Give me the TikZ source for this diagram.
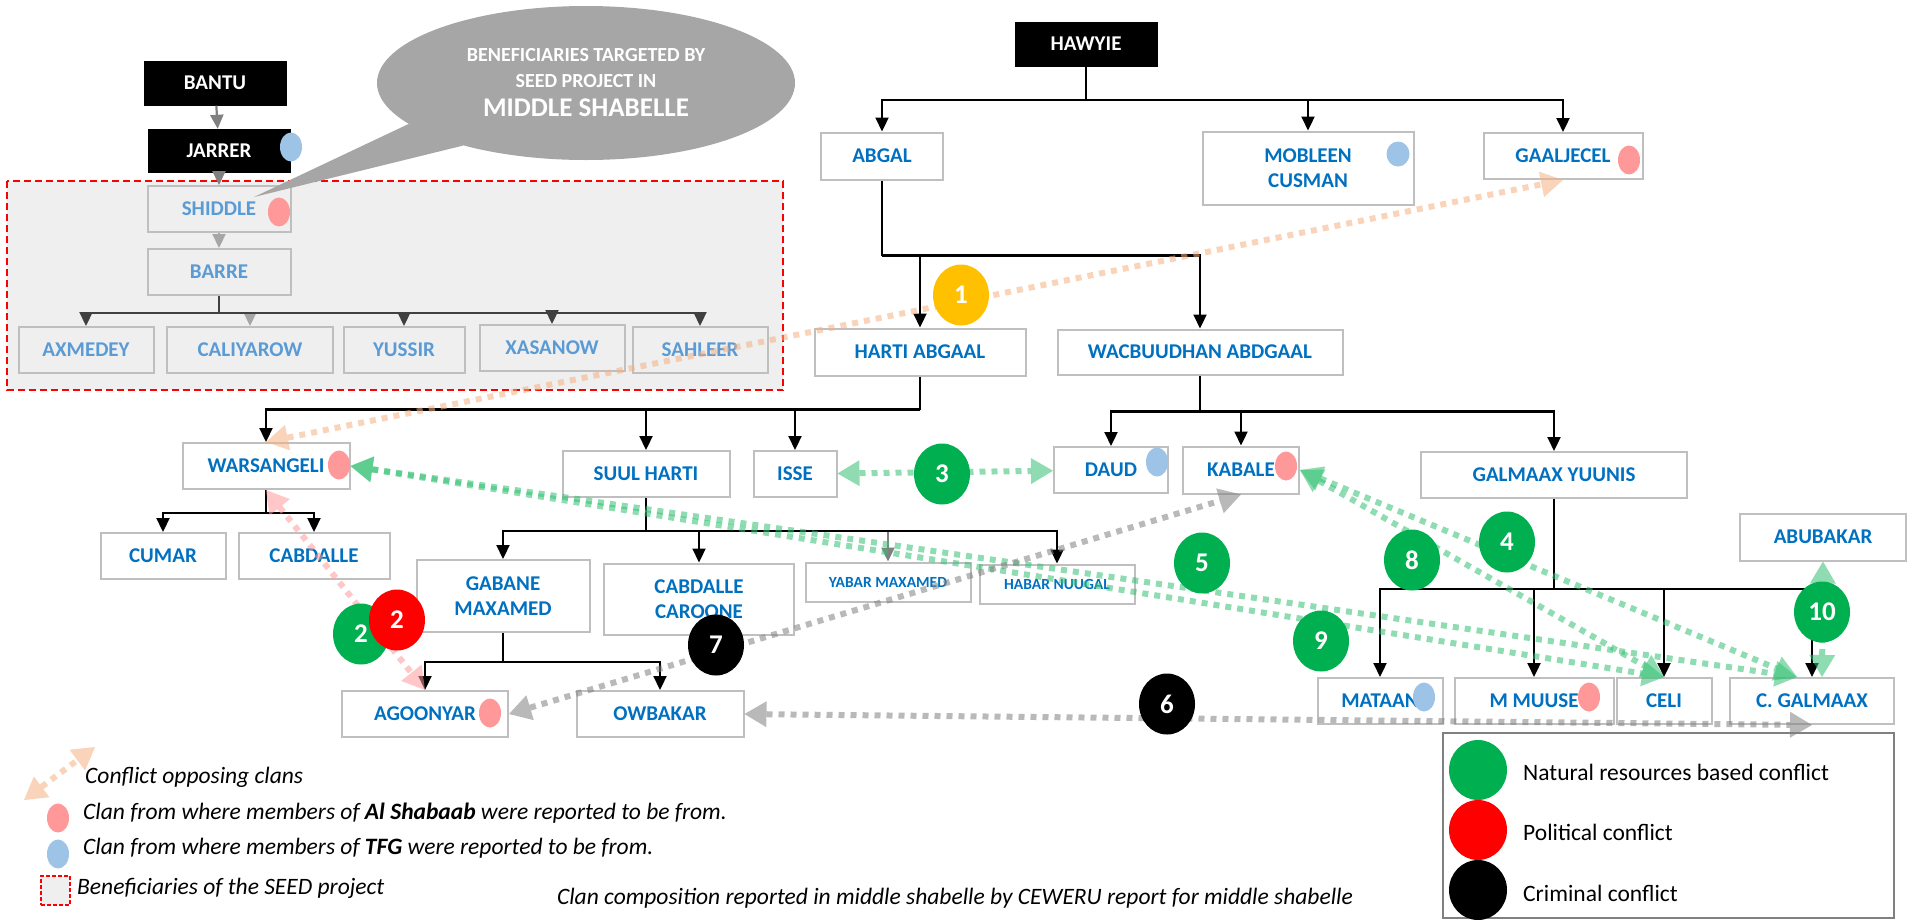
\documentclass[tikz,border=0pt]{standalone}
\usepackage{fontspec}
\setmainfont{Carlito}
\usetikzlibrary{arrows.meta,shapes.geometric}

\definecolor{clanblue}{HTML}{0070C0}
\definecolor{fadeblue}{HTML}{5B9BD5}
\definecolor{boxgray}{HTML}{BFBFBF}
\definecolor{seedgray}{HTML}{EFEFEF}
\definecolor{natgreen}{HTML}{00B050}
\definecolor{polred}{HTML}{FF0000}
\definecolor{onegold}{HTML}{FFC000}
\definecolor{alpink}{HTML}{FF9999}
\definecolor{tfgblue}{HTML}{9DC3E6}
\definecolor{bubblegray}{HTML}{A6A6A6}
\definecolor{feudorange}{HTML}{F4B183}
\definecolor{midgray}{HTML}{808080}
\definecolor{darkgray}{HTML}{404040}

\begin{document}
\begin{tikzpicture}[x=1pt,y=-1pt,
  clan/.style={draw=boxgray,line width=2pt,fill=white,text=clanblue,font=\fontsize{21}{25}\selectfont\bfseries,minimum height=46pt,inner sep=0pt,align=center},
  seed/.style={clan,fill=seedgray,text=fadeblue,minimum height=46pt},
  small/.style={clan,font=\fontsize{15.5}{18}\selectfont\bfseries,minimum height=39pt},
  root/.style={fill=black,text=white,font=\fontsize{21}{25}\selectfont\bfseries,minimum height=45pt,minimum width=143pt,inner sep=0pt},
  dot/.style={ellipse,minimum width=22pt,minimum height=29pt,inner sep=0pt},
  badge/.style={ellipse,minimum width=56pt,minimum height=61pt,inner sep=0pt,text=white,font=\fontsize{27}{27}\selectfont\bfseries},
  stem/.style={line width=2.2pt},
  tree/.style={stem,-{Triangle[length=14pt,width=13pt]}},
  elbow/.style={to path={-| (\tikztotarget)}},
  conflict/.style={line width=6pt,dash pattern=on 6pt off 6pt,opacity=.55,{Triangle[length=22pt,width=26pt,line width=0pt]}-{Triangle[length=22pt,width=26pt,line width=0pt]}},
  legtext/.style={anchor=west,inner sep=0pt,font=\fontsize{23.5}{28}\selectfont\itshape}
]
\useasboundingbox (0,0) rectangle (1910,919);

% SEED project area
\draw[polred,line width=2pt,dash pattern=on 7pt off 4pt,fill=seedgray] (6.5,181) rectangle (783,390);

% bantu
\node[root] (bantu) at (215,83) {BANTU};
\node[root,minimum height=44pt] (jarrer) at (219,151) {JARRER};
\node[seed,minimum width=143pt] (shiddle) at (219,209) {SHIDDLE};
\node[seed,minimum width=143pt] (barre) at (219,272) {BARRE};
\node[seed,minimum width=135pt] (axmedey) at (86,350) {AXMEDEY};
\node[seed,minimum width=166pt] (caliyarow) at (250,350) {CALIYAROW};
\node[seed,minimum width=121pt] (yussir) at (404,350) {YUSSIR};
\node[seed,minimum width=145pt] (xasanow) at (552,348) {XASANOW};
\node[seed,minimum width=135pt] (sahleer) at (700,350) {SAHLEER};

% hawyie
\node[root] (hawyie) at (1086,44) {HAWYIE};
\node[clan,minimum width=122pt,minimum height=47pt] (abgal) at (882,156) {ABGAL};
\node[clan,minimum width=211pt,minimum height=73pt] (mobleen) at (1308,168) {MOBLEEN\\CUSMAN};
\node[clan,minimum width=159pt] (gaaljecel) at (1563,156) {GAALJECEL};
\node[clan,minimum width=211pt,minimum height=47pt] (harti) at (920,352) {HARTI ABGAAL};
\node[clan,minimum width=285pt,minimum height=45pt] (wacbuudhan) at (1200,352) {WACBUUDHAN ABDGAAL};
\node[clan,minimum width=167pt] (warsangeli) at (266,466) {WARSANGELI};
\node[clan,minimum width=125pt] (cumar) at (163,556) {CUMAR};
\node[clan,minimum width=151pt] (cabdalle) at (314,556) {CABDALLE};
\node[clan,minimum width=167pt] (suulharti) at (646,474) {SUUL HARTI};
\node[clan,minimum width=83pt] (isse) at (795,474) {ISSE};
\node[clan,minimum width=114pt] (daud) at (1111,470) {DAUD};
\node[clan,minimum width=116pt,minimum height=47pt] (kabale) at (1241,470) {KABALE};
\node[clan,minimum width=266pt] (galmaax) at (1554,475) {GALMAAX YUUNIS};
\node[clan,minimum width=166pt,minimum height=47pt] (abubakar) at (1823,537) {ABUBAKAR};
\node[clan,minimum width=173pt,minimum height=72pt] (gabane) at (503,596) {GABANE\\MAXAMED};
\node[clan,minimum width=190pt,minimum height=71pt] (caroone) at (699,599) {CABDALLE\\CAROONE};
\node[small,minimum width=165pt] (yabar) at (888,582) {YABAR MAXAMED};
\node[small,minimum width=155pt] (habar) at (1057,584) {HABAR NUUGAL};
\node[clan,minimum width=166pt] (agoonyar) at (425,714) {AGOONYAR};
\node[clan,minimum width=167pt] (owbakar) at (660,714) {OWBAKAR};
\node[clan,minimum width=125pt] (mataan) at (1380,701) {MATAAN};
\node[clan,minimum width=159pt] (mmuuse) at (1534,701) {M MUUSE};
\node[clan,minimum width=95pt] (celi) at (1664,701) {CELI};
\node[clan,minimum width=164pt] (cgalmaax) at (1812,701) {C. GALMAAX};

% clan markers
\node[dot,fill=tfgblue] (jarrerdot) at (291,147) {};
\node[dot,fill=alpink] (shiddledot) at (279,212) {};
\node[dot,fill=tfgblue,minimum height=25pt,minimum width=23pt] (mobleendot) at (1398,154) {};
\node[dot,fill=alpink] (gaaljeceldot) at (1629,160) {};
\node[dot,fill=alpink] (warsangelidot) at (339,465) {};
\node[dot,fill=tfgblue] (dauddot) at (1157,462) {};
\node[dot,fill=alpink] (kabaledot) at (1286,466) {};
\node[dot,fill=alpink] (agoonyardot) at (490,713) {};
\node[dot,fill=tfgblue] (mataandot) at (1424,697) {};
\node[dot,fill=alpink] (mmuusedot) at (1589,697) {};

% lineage
\path[tree,midgray]
  (bantu) edge (jarrer)
  (jarrer) edge (shiddle);
\path[tree,bubblegray] (shiddle) edge (barre);
\draw[stem,darkgray] (barre.south) -- ++(0,17) coordinate (br);
\path[tree,darkgray]
  (br) edge[elbow] (axmedey)
       edge[elbow,bubblegray] (caliyarow)
       edge[elbow] (yussir)
       edge[elbow] (xasanow)
       edge[elbow] (sahleer);

\draw[stem] (hawyie.south) -- ++(0,33) coordinate (hb);
\draw[stem] (abgal.south) -- ++(0,75) coordinate (ab);
\draw[stem] (harti.south) -- ++(0,33) coordinate (hab);
\draw[stem] (wacbuudhan.south) -- ++(0,36) coordinate (wb);
\draw[stem] (warsangeli.south) -- ++(0,23) coordinate (ws);
\draw[stem] (suulharti.south) -- ++(0,33) coordinate (sh);
\draw[stem] (gabane.south) -- ++(0,29) coordinate (gm);
\draw[stem] (galmaax.south) -- ++(0,90) coordinate (gy);
\path[tree,black]
  (hb) edge[elbow] (abgal)
       edge[elbow] (mobleen)
       edge[elbow] (gaaljecel)
  (ab) edge[elbow] (harti)
       edge[elbow] (wacbuudhan)
  (hab) edge[elbow] (warsangeli)
        edge[elbow] (suulharti)
        edge[elbow] (isse)
  (wb) edge[elbow] (daud)
       edge[elbow] (kabale)
       edge[elbow] (galmaax)
  (ws) edge[elbow] (cumar)
       edge[elbow] (cabdalle)
  (sh) edge[elbow] (gabane)
       edge[elbow] (caroone)
       edge[elbow,midgray] (yabar)
       edge[elbow] (habar)
  (gm) edge[elbow] (agoonyar)
       edge[elbow] (owbakar)
  (gy) edge[elbow] (mataan)
       edge[elbow] (mmuuse)
       edge[elbow] (celi)
       edge[elbow] (cgalmaax);

% speech bubble
\node[ellipse,fill=bubblegray,minimum width=418pt,minimum height=154pt,inner sep=0pt,text=white,font=\fontsize{20}{26}\selectfont\bfseries,align=center] (bubble) at (586,83)
  {BENEFICIARIES TARGETED BY\\SEED PROJECT IN\\[3pt]{\fontsize{27}{30}\selectfont MIDDLE SHABELLE}};
\coordinate (tail) at (254,197);
\fill[bubblegray] (bubble.193) -- (tail) -- (bubble.207) -- cycle;

% conflicts
\path[conflict,feudorange] (warsangeli.north) edge (gaaljecel.south);
\path[conflict,alpink] (warsangeli.south) edge (agoonyar.north);
\path[conflict,natgreen!80]
  (isse) edge (daud)
  (warsangeli.east) edge (celi.north)
  (warsangeli.east) edge ([xshift=-15pt]cgalmaax.north)
  (kabale.east) edge (celi.north)
  (kabale.east) edge ([xshift=-15pt]cgalmaax.north)
  ([xshift=10pt]cgalmaax.north) edge (abubakar.south);
\path[conflict,midgray]
  (agoonyar.east) edge (kabale.south)
  (owbakar.east) edge (cgalmaax.south);

% conflict numbers
\node[badge,fill=onegold] (c1) at (961,295) {1};
\node[badge,fill=natgreen] (c2) at (361,634) {2};
\node[badge,fill=polred] (c2b) at (397,620) {2};
\node[badge,fill=natgreen] (c3) at (942,474) {3};
\node[badge,fill=natgreen] (c4) at (1507,542) {4};
\node[badge,fill=natgreen] (c5) at (1202,563) {5};
\node[badge,fill=black] (c6) at (1167,704) {6};
\node[badge,fill=black] (c7) at (716,645) {7};
\node[badge,fill=natgreen] (c8) at (1412,560) {8};
\node[badge,fill=natgreen] (c9) at (1321,641) {9};
\node[badge,fill=natgreen] (c10) at (1822,612) {10};

% legend
\node[draw=midgray,line width=2pt,minimum width=451pt,minimum height=185pt] (legend) at (1668.5,825.5) {};
\node[badge,fill=natgreen,minimum width=58pt,minimum height=60pt] (legnat) at (1478,770) {};
\node[badge,fill=polred,minimum width=58pt,minimum height=60pt] (legpol) at (1478,830) {};
\node[badge,fill=black,minimum width=58pt,minimum height=60pt] (legcrim) at (1478,890) {};
\node[legtext,font=\fontsize{23.5}{28}\selectfont] at (1523,772) {Natural resources based conflict};
\node[legtext,font=\fontsize{23.5}{28}\selectfont] at (1523,832) {Political conflict};
\node[legtext,font=\fontsize{23.5}{28}\selectfont] at (1523,893) {Criminal conflict};

\coordinate (keyfrom) at (24,800);
\coordinate (keyto) at (95,747);
\path[conflict,feudorange] (keyfrom) edge (keyto);
\node[legtext] (keyconflict) at (85,777) {Conflict opposing clans};
\node[dot,fill=alpink] (keyal) at (58,818) {};
\node[legtext] at (83,813) {Clan from where members of \textbf{Al Shabaab} were reported to be from.};
\node[dot,fill=tfgblue] (keytfg) at (58,854) {};
\node[legtext] at (83,848) {Clan from where members of \textbf{TFG} were reported to be from.};
\node[draw=polred,fill=seedgray,line width=2pt,dash pattern=on 4pt off 2pt,minimum width=29pt,minimum height=29pt] (keyseed) at (55.5,890) {};
\node[legtext] at (77,888) {Beneficiaries of the SEED project};
\node[font=\fontsize{23.5}{28}\selectfont\itshape] (caption) at (955,898) {Clan composition reported in middle shabelle by CEWERU report for middle shabelle};
\end{tikzpicture}
\end{document}
